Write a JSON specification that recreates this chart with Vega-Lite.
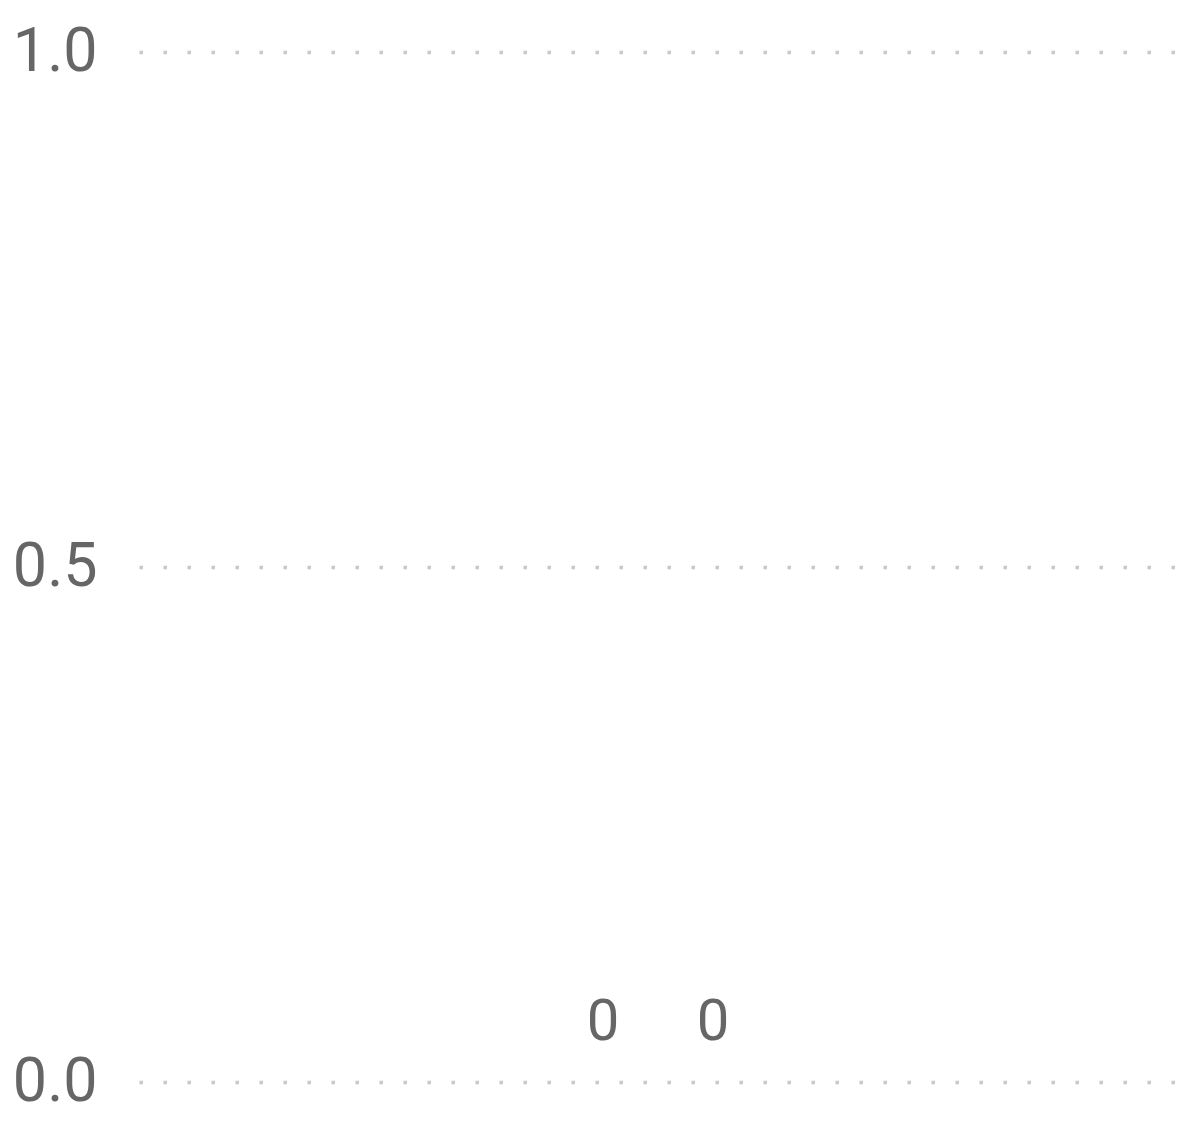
{
  "$schema": "https://vega.github.io/schema/vega-lite/v6.json",
  "autosize": {"type": "none"},
  "padding": {"left": 139, "top": 52, "right": 14, "bottom": 43},
  "width": 1036,
  "height": 1030,
  "background": "white",
  "config": {"view": {"stroke": null}},
  "data": {"values": [
    {"group": "All", "category": "A", "value": 0},
    {"group": "All", "category": "B", "value": 0}
  ]},
  "encoding": {
    "x": {"field": "group", "type": "nominal", "axis": null,
          "scale": {"paddingInner": 0, "paddingOuter": 0}},
    "xOffset": {"field": "category", "type": "nominal",
          "scale": {"range": [409, 629], "paddingInner": 0.2, "paddingOuter": 0.1}},
    "y": {"field": "value", "type": "quantitative",
          "scale": {"domain": [0, 1], "nice": false},
          "axis": {"values": [0, 0.5, 1], "format": ".1f", "title": null,
                   "domain": false, "ticks": false,
                   "labelFont": "Roboto", "labelFontSize": 61,
                   "labelColor": "#666666", "labelPadding": 42,
                   "grid": true, "gridColor": "#c8c8c8", "gridWidth": 3.5, "gridDash": [3.5, 20.5]}}
  },
  "layer": [
    {"mark": {"type": "bar", "color": "#118dff"}},
    {"mark": {"type": "text", "baseline": "alphabetic", "dy": -42,
              "font": "Roboto", "fontSize": 58, "color": "#666666"},
     "encoding": {"text": {"field": "value", "type": "quantitative"}}}
  ]
}
